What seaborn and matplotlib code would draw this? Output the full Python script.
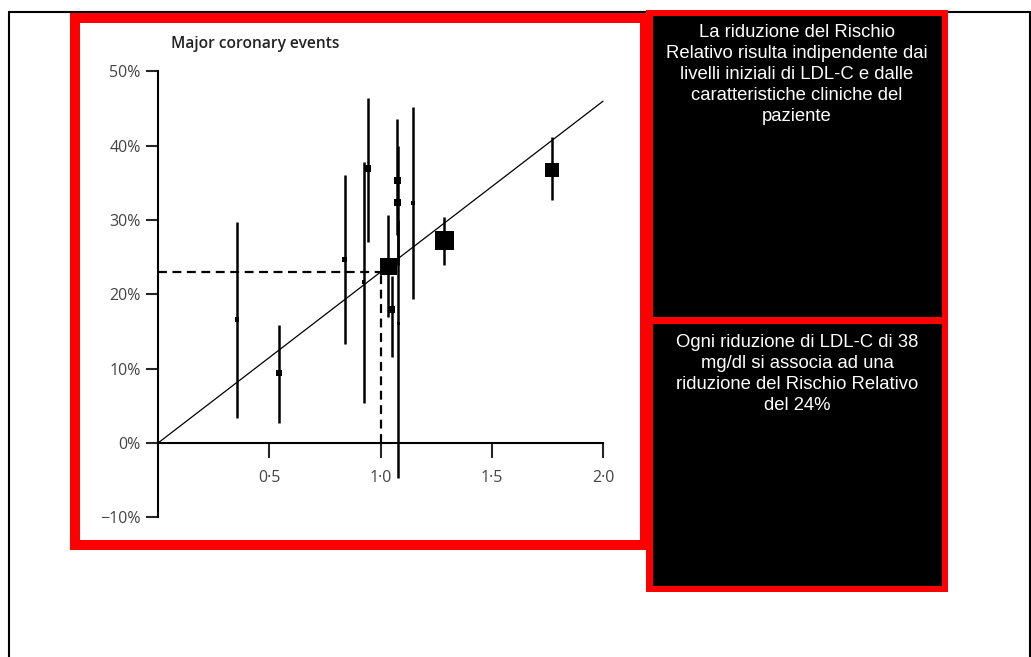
import matplotlib
matplotlib.use("Agg")
import matplotlib.pyplot as plt
from matplotlib.patches import Rectangle
import seaborn as sns

# valori (riduzione LDL-C in mmol/L, riduzione rischio in %)
ldl_reduction = [0.354, 0.544, 0.840, 0.924, 0.943, 1.035, 1.050, 1.075, 1.077, 1.080, 1.145, 1.287, 1.771]
risk_reduction = [16.6, 9.4, 24.7, 21.7, 36.9, 23.7, 17.9, 35.3, 32.3, 16.1, 32.3, 27.3, 36.7]
ci_low = [3.3, 2.7, 13.3, 5.4, 27.1, 17.0, 11.6, 28.0, 24.0, -4.7, 19.4, 24.0, 32.7]
ci_high = [29.8, 15.9, 36.0, 37.8, 46.4, 30.7, 22.5, 43.6, 40.0, 30.0, 45.2, 30.4, 41.2]
trial_weight = [20, 36, 25, 12, 49, 289, 49, 49, 49, 12, 20, 361, 196]

fit_x = [0.0, 2.0]
fit_y = [0.0, 46.0]
ref_x = 1.0
ref_y = 23.0

x_ticks = [0.5, 1.0, 1.5, 2.0]
x_tick_labels = ["0·5", "1·0", "1·5", "2·0"]
y_ticks = [-10, 0, 10, 20, 30, 40, 50]
y_tick_labels = ["−10%", "0%", "10%", "20%", "30%", "40%", "50%"]

title = "Major coronary events"
note_top = ("La riduzione del Rischio\nRelativo risulta indipendente dai\n"
            "livelli iniziali di LDL-C e dalle\ncaratteristiche cliniche del\npaziente")
note_bottom = ("Ogni riduzione di LDL-C di 38\nmg/dl si associa ad una\n"
               "riduzione del Rischio Relativo\ndel 24%")

sns.set_style("white")
plt.rcParams["font.family"] = ["Open Sans", "DejaVu Sans"]

W, H = 1031, 657
fig = plt.figure(figsize=(W / 100, H / 100), dpi=100, facecolor="white")


def px_box(x0, y0, x1, y1, face, z, edge="none", lw=0):
    # rettangolo in pixel (origine in alto a sinistra)
    r = Rectangle((x0 / W, 1 - y1 / H), (x1 - x0) / W, (y1 - y0) / H,
                  transform=fig.transFigure, facecolor=face, edgecolor=edge,
                  linewidth=lw, zorder=z)
    fig.add_artist(r)


# cornice e riquadri
px_box(9, 12, 1030, 662, "none", -5, edge="black", lw=1.5)
px_box(70, 13, 648, 550, "#ff0000", -4)
px_box(80, 23, 640, 540, "white", -3)
px_box(646, 10, 948, 592, "#ff0000", -2)
px_box(653, 16, 942, 317, "black", -1)
px_box(653, 324, 942, 586, "black", -1)

note_font = ["Liberation Sans", "DejaVu Sans"]
fig.text(797 / W, 1 - 24 / H, note_top, ha="center", va="top", color="white",
         fontsize=13.3, family=note_font, linespacing=1.3)
fig.text(797 / W, 1 - 334 / H, note_bottom, ha="center", va="top", color="white",
         fontsize=13.3, family=note_font, linespacing=1.3)

# grafico
ax = fig.add_axes([0.1317, 0.19, 0.4748, 0.7239])
ax.set_facecolor("none")
ax.set_xlim(-0.1, 2.1)
ax.set_ylim(-12, 52)

ax.vlines(ldl_reduction, ci_low, ci_high, color="black", lw=1.8, zorder=2)
sns.lineplot(x=fit_x, y=fit_y, color="black", lw=0.9, ax=ax, zorder=2)
ax.plot([0, ref_x], [ref_y, ref_y], color="black", lw=1.6, ls=(0, (4, 2.5)))
ax.plot([ref_x, ref_x], [0, ref_y], color="black", lw=1.6, ls=(0, (4, 2.5)))
sns.scatterplot(x=ldl_reduction, y=risk_reduction, size=trial_weight,
                sizes=(6.5, 187), size_norm=(12, 361), marker="s", color="black",
                linewidth=0, legend=False, ax=ax, zorder=3)

for side in ["top", "right"]:
    ax.spines[side].set_visible(False)
ax.spines["left"].set_position(("data", 0))
ax.spines["bottom"].set_position(("data", 0))
ax.spines["left"].set_bounds(-10, 50)
ax.spines["bottom"].set_bounds(0, 2.0)
for side in ["left", "bottom"]:
    ax.spines[side].set_linewidth(1.5)
    ax.spines[side].set_color("black")

ax.set_xticks(x_ticks)
ax.set_xticklabels(x_tick_labels)
ax.set_yticks(y_ticks)
ax.set_yticklabels(y_tick_labels)
ax.tick_params(axis="x", direction="out", length=10.5, width=1.5, pad=9,
               labelsize=11.5, labelcolor="#444444", bottom=True)
ax.tick_params(axis="y", direction="out", length=8.5, width=1.5, pad=4,
               labelsize=11.5, labelcolor="#444444", left=True)

ax.text(0.057, 53.7, title, fontsize=11.2, fontweight="semibold",
        ha="left", va="center", color="#222222", clip_on=False)

fig.savefig("out.png", dpi=100, facecolor="white")
